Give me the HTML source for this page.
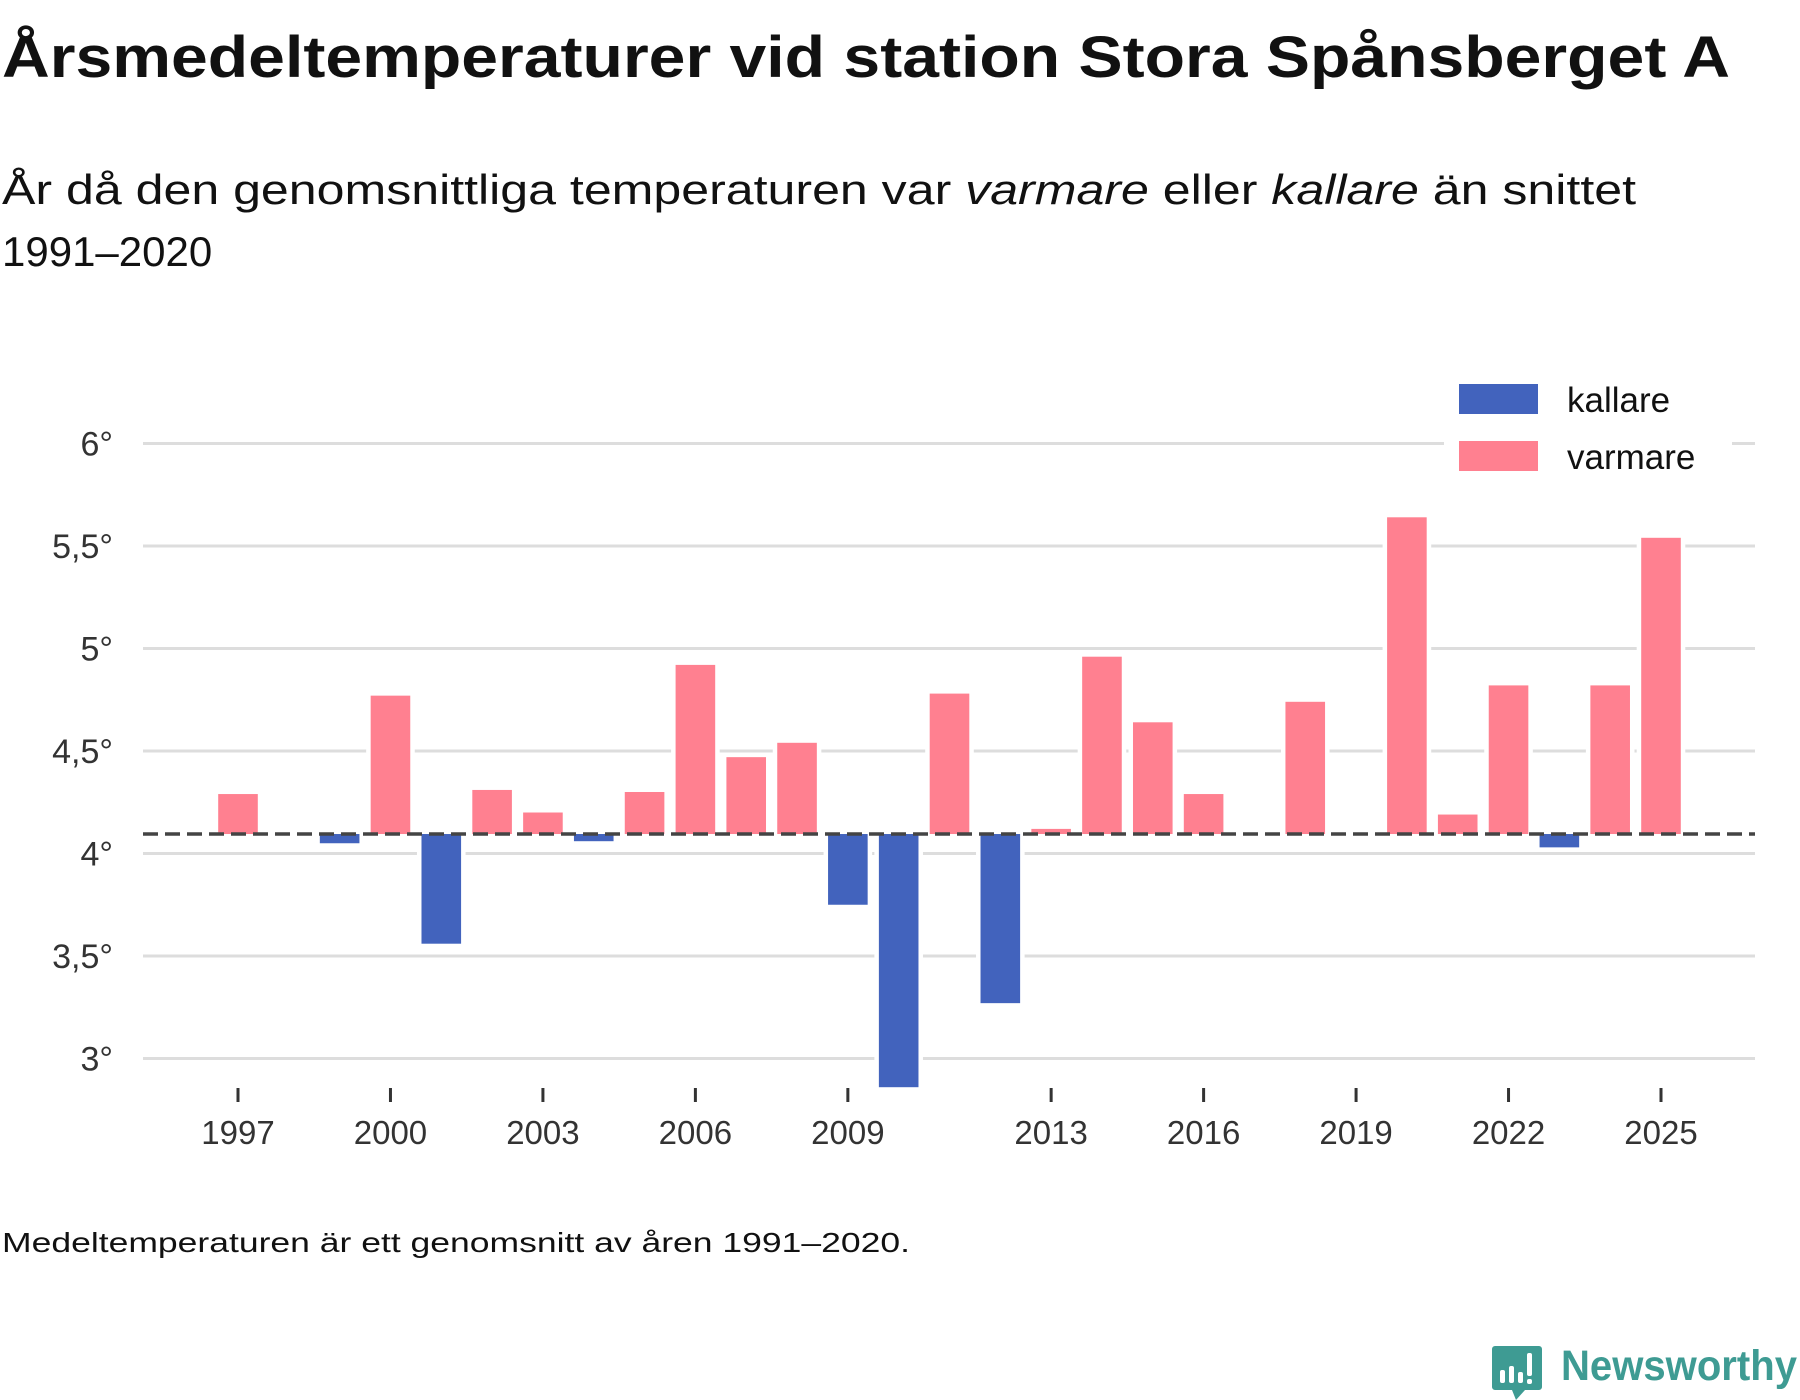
<!DOCTYPE html>
<html><head><meta charset="utf-8"><style>
html,body{margin:0;padding:0;background:#fff;}
svg{display:block;font-family:"Liberation Sans",sans-serif;}
</style></head><body>
<svg id="chart" width="1800" height="1400" viewBox="0 0 1800 1400" xmlns="http://www.w3.org/2000/svg">
<text x="2" y="77" font-size="58" font-weight="bold" fill="#111" textLength="1728" lengthAdjust="spacingAndGlyphs">Årsmedeltemperaturer vid station Stora Spånsberget A</text>
<text x="2" y="204" font-size="42" fill="#111" textLength="1634" lengthAdjust="spacingAndGlyphs">År då den genomsnittliga temperaturen var <tspan font-style="italic">varmare</tspan> eller <tspan font-style="italic">kallare</tspan> än snittet</text>
<text x="2" y="266" font-size="42" fill="#111">1991–2020</text>
<g id="grid"></g>
<g id="bars"></g>
<g id="axes"></g>
<g>
<rect x="1444" y="372" width="288" height="110" fill="#fff"/>
<rect x="1459" y="384" width="79" height="30" fill="#4263bd"/>
<text x="1567" y="412" font-size="35" fill="#111">kallare</text>
<rect x="1459" y="441" width="79" height="30" fill="#ff8090"/>
<text x="1567" y="469" font-size="35" fill="#111">varmare</text>
</g>
<text x="2" y="1252" font-size="28" fill="#111" textLength="908" lengthAdjust="spacingAndGlyphs">Medeltemperaturen är ett genomsnitt av åren 1991–2020.</text>
<g>
<path d="M1495 1346 h44 a3 3 0 0 1 3 3 v38 a3 3 0 0 1 -3 3 h-14 l-9 10 l-4 -10 h-17 a3 3 0 0 1 -3 -3 v-38 a3 3 0 0 1 3 -3z" fill="#3e9b93"/>
<rect x="1500" y="1370" width="5" height="13" rx="2" fill="#fff"/>
<rect x="1509" y="1366" width="5" height="17" rx="2" fill="#fff"/>
<rect x="1518" y="1372" width="5" height="11" rx="2" fill="#fff"/>
<rect x="1527" y="1353" width="5" height="23" rx="2" fill="#fff"/>
<rect x="1527" y="1379" width="5" height="5" rx="2" fill="#fff"/>
<text x="1561" y="1380" font-size="43" font-weight="bold" fill="#3e9b93" textLength="236" lengthAdjust="spacingAndGlyphs">Newsworthy</text>
</g>
</svg>
<script>
const years = [1997,1998,1999,2000,2001,2002,2003,2004,2005,2006,2007,2008,2009,2010,2011,2012,2013,2014,2015,2016,2017,2018,2019,2020,2021,2022,2023,2024,2025];
const temps = [4.29,4.095,4.05,4.77,3.56,4.31,4.20,4.06,4.30,4.92,4.47,4.54,3.75,2.86,4.78,3.27,4.12,4.96,4.64,4.29,4.095,4.74,4.095,5.64,4.19,4.82,4.03,4.82,5.54];
const baseline = 4.095;
const yTicks = [3,3.5,4,4.5,5,5.5,6];
const yTickLabels = ["3°","3,5°","4°","4,5°","5°","5,5°","6°"];
const xTickYears = [1997,2000,2003,2006,2009,2013,2016,2019,2022,2025];

const NS = "http://www.w3.org/2000/svg";
function yS(v){ return 853.5 - (v-4)*205; }
function xS(yr){ return 238 + (yr-1997)*(1661-238)/28; }
const BW = 39.6;
function mk(tag, attrs, parent){ const e=document.createElementNS(NS,tag); for(const k in attrs) e.setAttribute(k,attrs[k]); parent.appendChild(e); return e; }

const grid=document.getElementById('grid'), bars=document.getElementById('bars'), axes=document.getElementById('axes');
yTicks.forEach((t,i)=>{
  const l=mk('line',{x1:143,x2:1755,y1:yS(t),y2:yS(t),stroke:'#dddddd','stroke-width':3},grid);
  
  
  const tx=mk('text',{x:113,y:yS(t)+12,'text-anchor':'end','font-size':34,fill:'#333'},axes);
  tx.textContent=yTickLabels[i];
  
  
});
years.forEach((yr,i)=>{
  const v=temps[i];
  const y1=yS(Math.max(v,baseline)), y2=yS(Math.min(v,baseline));
  if (y2-y1 < 0.5) return;
  const r=mk('rect',{x:xS(yr)-BW/2,y:y1,width:BW,height:y2-y1,fill:v>=baseline?'#ff8090':'#4263bd',stroke:'#fff','stroke-width':9,'paint-order':'stroke'},bars);
  
  
});
const dl=mk('line',{x1:143,x2:1755,y1:yS(baseline),y2:yS(baseline),stroke:'#444','stroke-width':3.5,'stroke-dasharray':'15 7'},axes);


xTickYears.forEach(yr=>{
  const tk=mk('line',{x1:xS(yr),x2:xS(yr),y1:1088,y2:1102,stroke:'#333','stroke-width':3},axes);
  
  
  const tx=mk('text',{x:xS(yr),y:1144,'text-anchor':'middle','font-size':33,fill:'#333'},axes);
  tx.textContent=String(yr);
  
  
});
</script>
</body></html>
